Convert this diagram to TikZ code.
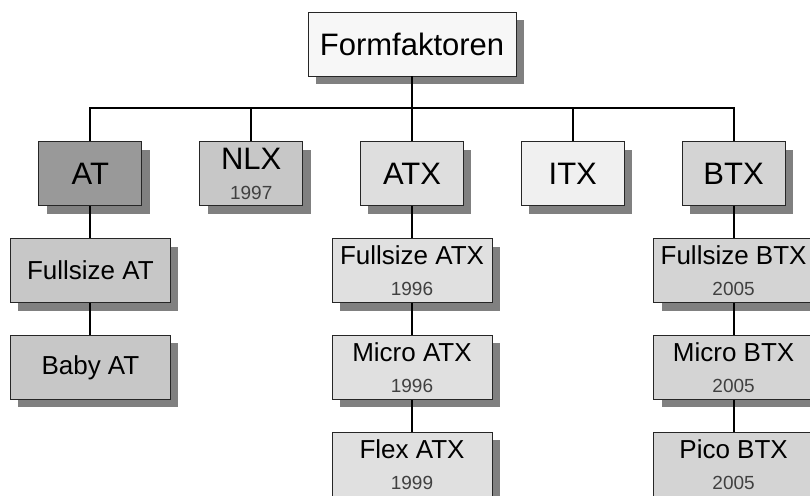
\documentclass[tikz,border=0pt]{standalone}
\usepackage{fontspec}
\setmainfont{Liberation Sans}
\usetikzlibrary{shadows}
\usetikzlibrary{positioning}
\newcommand{\yr}[1]{{\fontsize{19}{22}\selectfont\color{black!75}#1}}

\begin{document}
\begin{tikzpicture}[ampersand replacement=\&]
\tikzstyle{box} = [rectangle, draw=black!85, line width=0.8pt, inner sep=0pt, minimum height=64pt, align=center,
drop shadow={shadow xshift=8pt, shadow yshift=-8pt, fill=black!50, opacity=1}]
\tikzstyle{head} = [box, minimum width=103pt, font=\fontsize{31}{30}\selectfont]
\tikzstyle{sub} = [box, minimum width=160pt, font=\fontsize{26}{31}\selectfont]
\tikzstyle{line} = [draw, line width=2pt];
\useasboundingbox (-412pt,319pt) rectangle (398pt,-176pt);
\matrix (m) [column sep=28.5pt, row sep=32pt, inner sep=0pt]
{
% row 1
\node [head, fill=black!40] (at) {AT}; \&
\node [head, fill=black!22] (nlx) {NLX\\\yr{1997}}; \&
\node [head, fill=black!13] (atx) {ATX}; \&
\node [head, fill=black!6] (itx) {ITX}; \&
\node [head, fill=black!17] (btx) {BTX};\\
% row 2
\node [sub, fill=black!22] (fsat) {Fullsize AT}; \& \&
\node [sub, fill=black!12] (fsatx) {Fullsize ATX\\\yr{1996}}; \& \&
\node [sub, fill=black!17] (fsbtx) {Fullsize BTX\\\yr{2005}};\\
% row 3
\node [sub, fill=black!22] (baby) {Baby AT}; \& \&
\node [sub, fill=black!12] (microatx) {Micro ATX\\\yr{1996}}; \& \&
\node [sub, fill=black!17] (microbtx) {Micro BTX\\\yr{2005}};\\
% row 4
\& \&
\node [sub, fill=black!12] (flex) {Flex ATX\\\yr{1999}}; \& \&
\node [sub, fill=black!17] (pico) {Pico BTX\\\yr{2005}};\\
};
\node [box, minimum width=208pt, fill=black!3, font=\fontsize{31}{30}\selectfont, above=65pt of atx] (form) {Formfaktoren};
\coordinate (bus) at ([yshift=-32pt]form.south);
\tikzstyle{every path}=[line]
\path (form) -- (atx);
\path (at.north) |- (bus) -| (btx.north);
\path (nlx) -- (nlx |- bus);
\path (itx) -- (itx |- bus);
\path (at) -- (fsat);
\path (fsat) -- (baby);
\path (atx) -- (fsatx);
\path (fsatx) -- (microatx);
\path (microatx) -- (flex);
\path (btx) -- (fsbtx);
\path (fsbtx) -- (microbtx);
\path (microbtx) -- (pico);
\end{tikzpicture}
\end{document}
